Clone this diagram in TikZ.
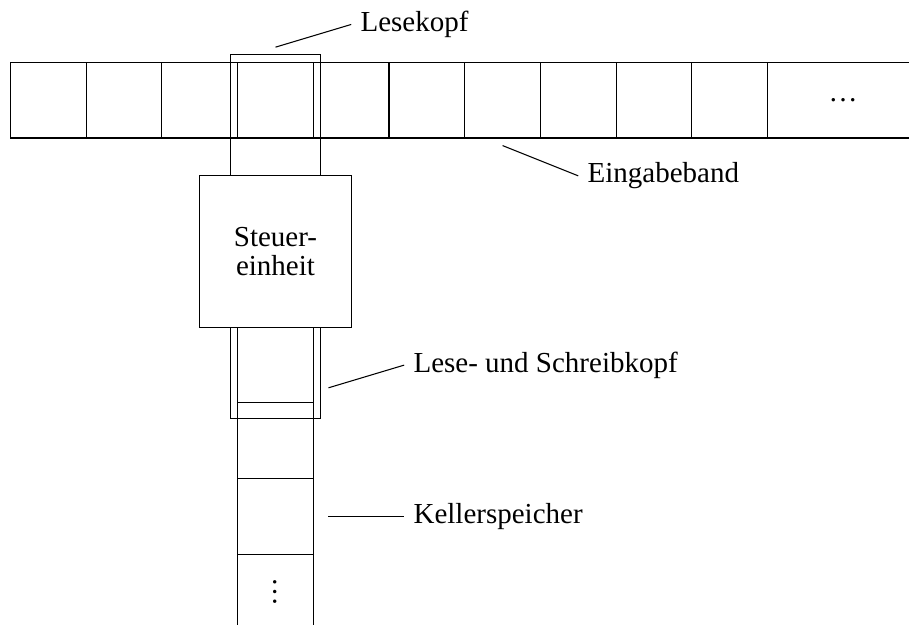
\documentclass[tikz,border=0pt]{standalone}
\usepackage{fontspec}
\setmainfont{Liberation Serif}

\begin{document}
\begin{tikzpicture}[
		kopf/.style={line width=0.3pt},
		schrift/.style={font=\fontsize{10.9}{11.2}\selectfont},
		beschriftung/.style={schrift,anchor=west}]
		\useasboundingbox (-0.139,-7.433) rectangle (11.869,0.823);
		% Eingabeband
		\draw (11.869,0) -- (0,0) -- (0,-1) -- (11.869,-1);
		\foreach \x in {1,...,10}
			\draw (\x,0) -- (\x,-1);
		\node[schrift] (bandrest) at (11,-0.5) {…};
		% Steuereinheit mit Koepfen
		\draw[kopf] (2.9,0.1) rectangle (4.1,-1.5);
		\node[draw,schrift,align=center,minimum size=2cm,inner sep=0pt] (steuer) at (3.5,-2.5) {Steuer-\\einheit};
		\draw[kopf] (2.9,-3.5) rectangle (4.1,-4.7);
		% Kellerspeicher
		\draw (3,-3.5) -- (3,-7.433);
		\draw (4,-3.5) -- (4,-7.433);
		\foreach \y in {4.5,5.5,6.5}
			\draw (3,-\y) -- (4,-\y);
		\node[schrift,rotate=90] (kellerrest) at (3.5,-7) {…};
		% Beschriftungen
		\coordinate (lkpunkt) at (3.5,0.2);
		\node[beschriftung] (lesekopf) at (4.5,0.5) {Lesekopf};
		\draw (lkpunkt) -- (lesekopf.west);
		\coordinate (bandpunkt) at (6.5,-1.1);
		\node[beschriftung] (band) at (7.5,-1.5) {Eingabeband};
		\draw (bandpunkt) -- (band.west);
		\coordinate (lskpunkt) at (4.2,-4.3);
		\node[beschriftung] (lsk) at (5.2,-4) {Lese- und Schreibkopf};
		\draw (lskpunkt) -- (lsk.west);
		\coordinate (kellerpunkt) at (4.2,-6);
		\node[beschriftung] (keller) at (5.2,-6) {Kellerspeicher};
		\draw (kellerpunkt) -- (keller.west);
	\end{tikzpicture}
\end{document}
